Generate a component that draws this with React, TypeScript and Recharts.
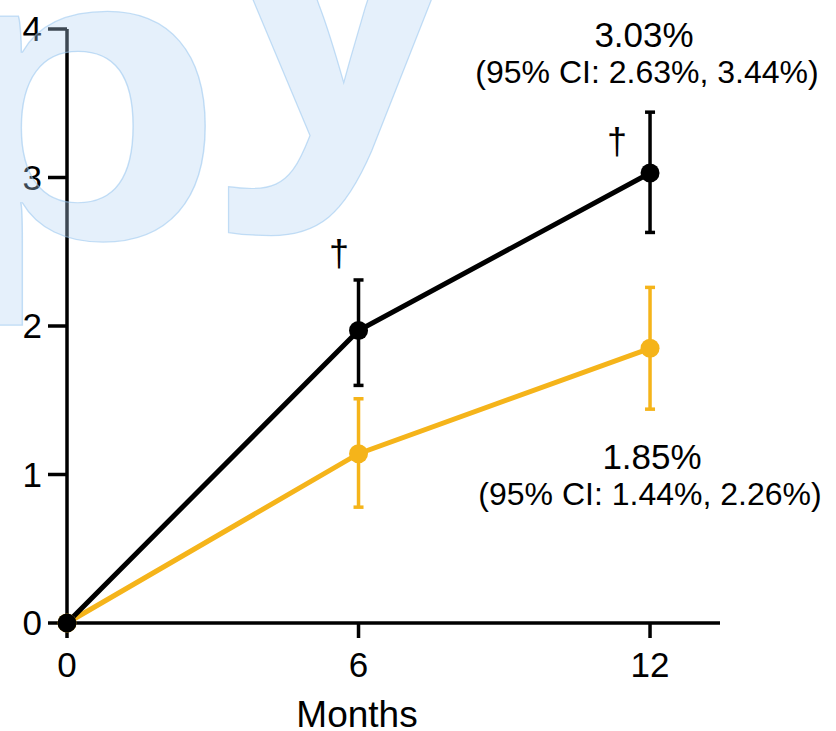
import React from 'react';
import { LineChart, Line, XAxis, YAxis, ErrorBar } from 'recharts';

// follow-up months and cumulative rates (%) with 95% CI bounds
const months = [0, 6, 12];
const darkRate = [0, 1.97, 3.03];
const darkLow = [0, 1.6, 2.63];
const darkHigh = [0, 2.31, 3.44];
const goldRate = [0, 1.14, 1.85];
const goldLow = [0, 0.78, 1.44];
const goldHigh = [0, 1.51, 2.26];
const xTicks = [0, 6, 12];
const yTicks = [0, 1, 2, 3, 4];

const DARK = '#000000';
const GOLD = '#F5B41A';
const FONT = '"Liberation Sans", Arial, Helvetica, sans-serif';

const data = months.map((m, i) => ({
  month: m,
  dark: darkRate[i],
  darkErr: [darkRate[i] - darkLow[i], darkHigh[i] - darkRate[i]],
  gold: goldRate[i],
  goldErr: [goldRate[i] - goldLow[i], goldHigh[i] - goldRate[i]],
}));

const pct = (v: number) => `${v.toFixed(2)}%`;
const last = months.length - 1;

const tickStyle = { fill: '#000', fontSize: 35, fontFamily: FONT };

const App: React.FC = () => {
  return (
    <div style={{ position: 'absolute', left: 0, top: 0, width: 836, height: 731, background: '#fff' }}>
      <LineChart
        width={836}
        height={731}
        data={data}
        margin={{ top: 29, right: 116, left: 0, bottom: 0 }}
      >
        <XAxis
          dataKey="month"
          type="number"
          domain={[0, 13.44]}
          ticks={xTicks}
          height={108}
          tickSize={15}
          tickMargin={14}
          tick={tickStyle}
          axisLine={{ stroke: '#000', strokeWidth: 3.5 }}
          tickLine={{ stroke: '#000', strokeWidth: 3.5 }}
        />
        <YAxis
          type="number"
          domain={[0, 4]}
          ticks={yTicks}
          width={67}
          tickSize={19}
          tickMargin={6}
          tick={tickStyle}
          axisLine={{ stroke: '#000', strokeWidth: 3.5 }}
          tickLine={{ stroke: '#000', strokeWidth: 3.5 }}
        />
        <Line
          dataKey="gold"
          stroke={GOLD}
          strokeWidth={5}
          dot={{ r: 9.5, fill: GOLD, stroke: GOLD, strokeWidth: 0 }}
          isAnimationActive={false}
        >
          <ErrorBar dataKey="goldErr" direction="y" width={5} stroke={GOLD} strokeWidth={3.5} isAnimationActive={false} />
        </Line>
        <Line
          dataKey="dark"
          stroke={DARK}
          strokeWidth={5}
          dot={{ r: 9.5, fill: DARK, stroke: DARK, strokeWidth: 0 }}
          isAnimationActive={false}
        >
          <ErrorBar dataKey="darkErr" direction="y" width={5} stroke={DARK} strokeWidth={3.5} isAnimationActive={false} />
        </Line>
      </LineChart>

      {/* annotations, axis title and the faint watermark on top */}
      <svg
        width={836}
        height={731}
        style={{ position: 'absolute', left: 0, top: 0, pointerEvents: 'none' }}
        fontFamily={FONT}
      >
        <text x={644} y={47} fontSize={35} textAnchor="middle" fill="#000">{pct(darkRate[last])}</text>
        <text x={647} y={83} fontSize={32} textAnchor="middle" fill="#000">
          {`(95% CI: ${pct(darkLow[last])}, ${pct(darkHigh[last])})`}
        </text>
        <text x={652} y={469} fontSize={35} textAnchor="middle" fill="#000">{pct(goldRate[last])}</text>
        <text x={650} y={505} fontSize={32} textAnchor="middle" fill="#000">
          {`(95% CI: ${pct(goldLow[last])}, ${pct(goldHigh[last])})`}
        </text>
        <text x={339} y={266} fontSize={36} textAnchor="middle" fill="#000">†</text>
        <text x={617} y={154} fontSize={36} textAnchor="middle" fill="#000">†</text>
        <text x={357} y={727} fontSize={37} textAnchor="middle" fill="#000">Months</text>

        <g fill="rgb(178,212,242)" fillOpacity={0.34} stroke="rgb(150,196,238)" strokeOpacity={0.55} strokeWidth={1.2} fontWeight="bold">
          <text fontSize={420} transform="translate(-82 238) scale(1.2 1)">p</text>
          <text fontSize={470} transform="translate(203 138) scale(1.05 1)">y</text>
        </g>
      </svg>
    </div>
  );
};

export default App;
